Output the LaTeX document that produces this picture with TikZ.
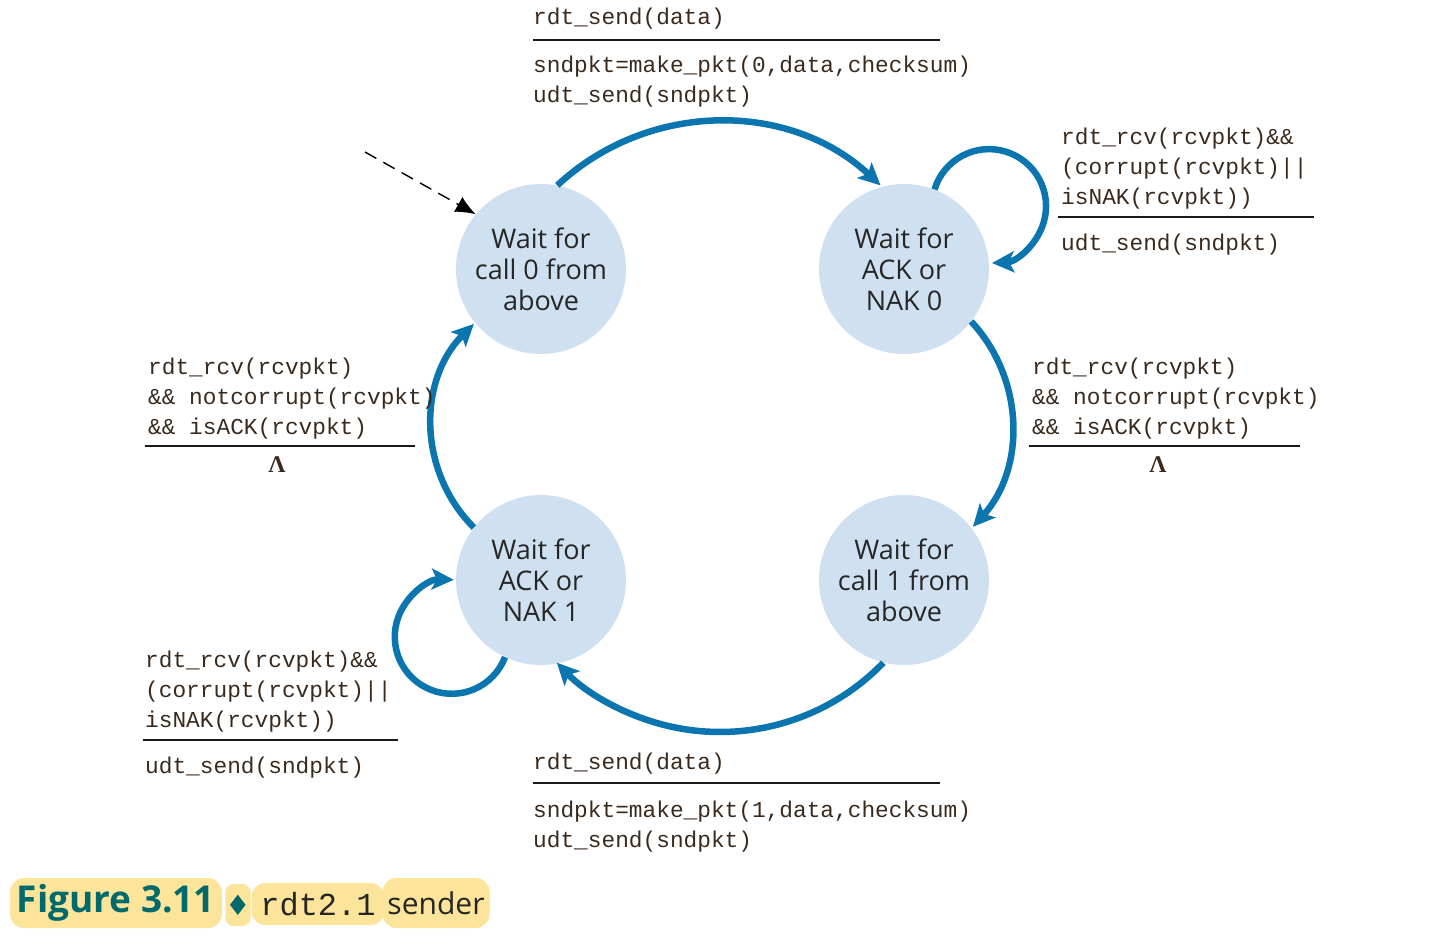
\documentclass[tikz,border=0pt]{standalone}
\usepackage{fontspec}
\setmainfont{Open Sans}
\newfontfamily\codefont{Liberation Mono}
\newfontfamily\lamfont{Liberation Serif}
\newfontfamily\symfont{DejaVu Sans}
\usetikzlibrary{arrows.meta}
\definecolor{statefill}{HTML}{CFE1F0}
\definecolor{edgeblue}{HTML}{0B75AF}
\definecolor{ink}{HTML}{3A2A1E}
\definecolor{capbg}{HTML}{FDE49B}
\definecolor{capteal}{HTML}{00696B}
\begin{document}
\begin{tikzpicture}[x=1pt,y=1pt,
  state/.style={circle, fill=statefill, minimum size=170pt, inner sep=0pt, align=center,
    font=\fontsize{27}{31}\selectfont, text=black!85},
  trans/.style={draw=edgeblue, line width=6.5pt, -{Stealth[length=22pt,width=21pt,inset=5pt]}},
  code/.style={anchor=base west, inner sep=0pt, font=\codefont\fontsize{22.8}{30}\selectfont, text=ink},
  rulel/.style={draw=black!90, line width=1.6pt},
  lam/.style={inner sep=0pt, font=\lamfont\bfseries\fontsize{24}{24}\selectfont, text=ink},
  capbox/.style={fill=capbg, rounded corners=14pt, inner sep=0pt, anchor=center},
]
\path[use as bounding box] (0,0) rectangle (1452,-941);

% states
\node[state] (c0) at (541,-269) {Wait for\\call 0 from\\above};
\node[state] (c1) at (904,-269) {Wait for\\ACK or\\NAK 0};
\node[state] (c2) at (541,-580) {Wait for\\ACK or\\NAK 1};
\node[state] (c3) at (904,-580) {Wait for\\call 1 from\\above};

% initial transition
\coordinate (init) at (365,-152);
\draw[line width=1.4pt, dash pattern=on 13pt off 8pt, -{Latex[length=20pt,width=17pt]}] (init) -- (c0.140);

% transitions around the cycle (circular arcs leaving each state)
\draw[trans] (c0.79) arc[start angle=133, end angle=47, radius=237];
\draw[trans] (c1.-38) arc[start angle=43, end angle=-42, radius=152];
\draw[trans] (c3.-104) arc[start angle=-44, end angle=-136, radius=227];
\draw[trans] (c2.142) arc[start angle=225, end angle=135, radius=144];

% self loops
\draw[trans] (c1.69) arc[start angle=163, end angle=-87, radius=57];
\draw[trans] (c2.-115) arc[start angle=-21, end angle=-272, radius=57];

% top label
\node[code] (ta) at (533,-25) {rdt\_send(data)};
\draw[rulel] (533,-40) -- (940,-40);
\node[code] (tb) at (533,-73) {sndpkt=make\_pkt(0,data,checksum)};
\node[code] (tc) at (533,-103) {udt\_send(sndpkt)};

% top right loop label
\node[code] (ra) at (1061,-145) {rdt\_rcv(rcvpkt)\&\&};
\node[code] (rb) at (1061,-175) {(corrupt(rcvpkt)||};
\node[code] (rc) at (1061,-205) {isNAK(rcvpkt))};
\draw[rulel] (1058,-217) -- (1314,-217);
\node[code] (rd) at (1061,-251) {udt\_send(sndpkt)};

% right label
\node[code] (ma) at (1032,-374) {rdt\_rcv(rcvpkt)};
\node[code] (mb) at (1032,-404) {\&\& notcorrupt(rcvpkt)};
\node[code] (mc) at (1032,-434) {\&\& isACK(rcvpkt)};
\draw[rulel] (1029,-446) -- (1300,-446);
\node[lam] (ml) at (1158,-465) {Λ};

% left label
\node[code] (la) at (148,-374) {rdt\_rcv(rcvpkt)};
\node[code] (lb) at (148,-404) {\&\& notcorrupt(rcvpkt)};
\node[code] (lc) at (148,-434) {\&\& isACK(rcvpkt)};
\draw[rulel] (145,-446) -- (415,-446);
\node[lam] (ll) at (277,-465) {Λ};

% bottom left loop label
\node[code] (ba) at (145,-667) {rdt\_rcv(rcvpkt)\&\&};
\node[code] (bb) at (145,-697) {(corrupt(rcvpkt)||};
\node[code] (bc) at (145,-727) {isNAK(rcvpkt))};
\draw[rulel] (143,-740) -- (398,-740);
\node[code] (bd) at (145,-773) {udt\_send(sndpkt)};

% bottom label
\node[code] (da) at (533,-769) {rdt\_send(data)};
\draw[rulel] (533,-783) -- (940,-783);
\node[code] (db) at (533,-817) {sndpkt=make\_pkt(1,data,checksum)};
\node[code] (dc) at (533,-847) {udt\_send(sndpkt)};

% caption
\node[capbox, minimum width=212pt, minimum height=50pt, text=capteal,
  font=\bfseries\fontsize{37}{37}\selectfont] (fig) at (116,-903) {Figure 3.11};
\node[capbox, rounded corners=8pt, minimum width=20pt, minimum height=42pt, text=capteal,
  font=\symfont\fontsize{28}{28}\selectfont] (dia) at (238,-905) {♦};
\node[capbox, minimum width=133pt, minimum height=42pt, text=black!85,
  font=\codefont\fontsize{32}{32}\selectfont] (rdt) at (318,-904) {rdt2.1};
\node[capbox, minimum width=107pt, minimum height=50pt, text=black!85,
  font=\fontsize{30}{30}\selectfont] (snd) at (436,-903) {sender};
\end{tikzpicture}
\end{document}
